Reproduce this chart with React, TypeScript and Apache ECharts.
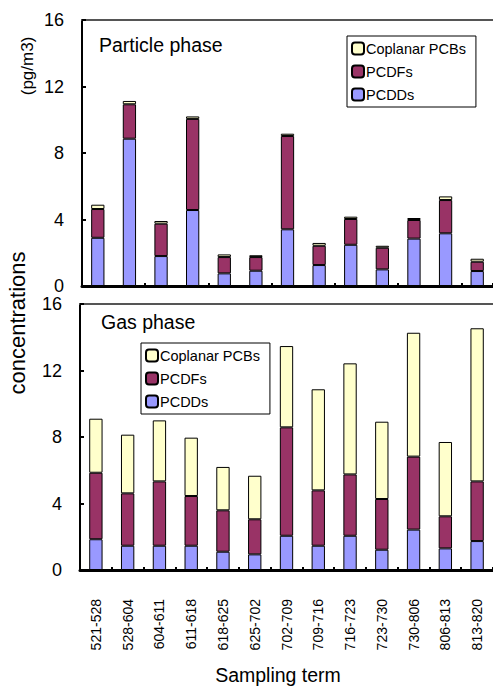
import React, { useEffect, useRef } from "react";
import * as echarts from "echarts";

const categories = ["521-528", "528-604", "604-611", "611-618", "618-625", "625-702", "702-709", "709-716", "716-723", "723-730", "730-806", "806-813", "813-820"];

const particlePCDDs = [2.9, 8.86, 1.8, 4.57, 0.76, 0.92, 3.41, 1.26, 2.48, 1.0, 2.85, 3.17, 0.9];
const particlePCDFs = [1.73, 2.07, 1.95, 5.48, 0.98, 0.82, 5.61, 1.16, 1.55, 1.3, 1.12, 2.0, 0.56];
const particleCoplanar = [0.26, 0.2, 0.16, 0.15, 0.16, 0.11, 0.14, 0.17, 0.14, 0.12, 0.12, 0.22, 0.18];

const gasPCDDs = [1.85, 1.46, 1.46, 1.46, 1.1, 0.94, 2.06, 1.46, 2.06, 1.22, 2.43, 1.3, 1.74];
const gasPCDFs = [4.0, 3.15, 3.87, 2.99, 2.49, 2.11, 6.52, 3.33, 3.69, 3.05, 4.39, 1.93, 3.59];
const gasCoplanar = [3.25, 3.53, 3.67, 3.51, 2.61, 2.62, 4.89, 6.08, 6.68, 4.65, 7.45, 4.47, 9.21];

const yTicks = [0, 4, 8, 12, 16];

const legendNames = ["Coplanar PCBs", "PCDFs", "PCDDs"];
const colors = { PCDDs: "#9999FF", PCDFs: "#993366", "Coplanar PCBs": "#FFFFCC" };

const FONT = "Arial, 'Liberation Sans', sans-serif";

export default function App() {
  const ref = useRef<HTMLDivElement>(null);
  useEffect(() => {
    document.body.style.margin = "0";
    if (!ref.current) return;
    const chart = echarts.init(ref.current, undefined, { renderer: "svg" });

    const mkX = (grid: number, showLabels: boolean) => ({
      type: "category",
      gridIndex: grid,
      data: categories,
      position: "bottom",
      axisLine: { show: true, lineStyle: { color: "#000", width: 3 } },
      axisTick: { show: true, inside: true, length: 3, lineStyle: { color: "#000", width: 2 } },
      axisLabel: showLabels
        ? { show: true, rotate: 90, margin: 29, color: "#000", fontSize: 14, fontFamily: FONT }
        : { show: false },
      splitLine: { show: false },
    });
    const mkTopX = (grid: number) => ({
      type: "category",
      gridIndex: grid,
      data: categories,
      position: "top",
      axisLine: { show: true, lineStyle: { color: "#555", width: 2 } },
      axisTick: { show: false },
      axisLabel: { show: false },
      splitLine: { show: false },
    });
    const mkY = (grid: number) => ({
      type: "value",
      gridIndex: grid,
      min: yTicks[0],
      max: yTicks[yTicks.length - 1],
      interval: 4,
      axisLine: { show: true, lineStyle: { color: "#000", width: 2 } },
      axisTick: { show: true, inside: true, length: 4, lineStyle: { color: "#000", width: 2 } },
      axisLabel: { color: "#000", fontSize: 18, fontFamily: FONT, margin: 18 },
      splitLine: { show: false },
    });

    const mkSeries = (name: string, data: number[], xi: number, yi: number, stack: string) => ({
      name,
      type: "bar",
      stack,
      data,
      xAxisIndex: xi,
      yAxisIndex: yi,
      barWidth: "42%",
      itemStyle: { color: (colors as any)[name], borderColor: "#000", borderWidth: 1 },
    });

    const legendCommon = {
      data: legendNames,
      orient: "vertical",
      itemWidth: 12,
      itemHeight: 12,
      itemGap: 8,
      borderColor: "#000",
      borderWidth: 1,
      padding: [5, 10, 5, 4],
      backgroundColor: "#fff",
      textStyle: { color: "#000", fontSize: 14.5, fontFamily: FONT, padding: [0, 0, 0, -3] },
      selectedMode: false,
    };

    chart.setOption({
      animation: false,
      backgroundColor: "#fff",
      grid: [
        { left: 82, top: 20, width: 417, height: 266 },
        { left: 80, top: 304, width: 417, height: 266 },
      ],
      xAxis: [mkX(0, false), mkX(1, true), mkTopX(0), mkTopX(1)],
      yAxis: [mkY(0), mkY(1)],
      legend: [
        { ...legendCommon, left: 347, top: 36 },
        { ...legendCommon, left: 141, top: 343 },
      ],
      series: [
        mkSeries("PCDDs", particlePCDDs, 0, 0, "p"),
        mkSeries("PCDFs", particlePCDFs, 0, 0, "p"),
        mkSeries("Coplanar PCBs", particleCoplanar, 0, 0, "p"),
        mkSeries("PCDDs", gasPCDDs, 1, 1, "g"),
        mkSeries("PCDFs", gasPCDFs, 1, 1, "g"),
        mkSeries("Coplanar PCBs", gasCoplanar, 1, 1, "g"),
      ],
      graphic: [
        { type: "text", left: 99, top: 35, style: { text: "Particle phase", fontSize: 19.5, fontFamily: FONT, fill: "#000" } },
        { type: "text", left: 101, top: 312, style: { text: "Gas phase", fontSize: 19.5, fontFamily: FONT, fill: "#000" } },
        { type: "text", x: 27, y: 66, rotation: Math.PI / 2, style: { text: "(pg/m3)", fontSize: 17, fontFamily: FONT, fill: "#000", align: "center", verticalAlign: "middle" } },
        { type: "text", x: 17, y: 323, rotation: Math.PI / 2, style: { text: "concentrations", fontSize: 22, fontFamily: FONT, fill: "#000", align: "center", verticalAlign: "middle" } },
        { type: "text", x: 278, y: 675, style: { text: "Sampling term", fontSize: 19.5, fontFamily: FONT, fill: "#000", align: "center", verticalAlign: "middle" } },
      ],
    });
    return () => chart.dispose();
  }, []);
  return <div ref={ref} style={{ width: 493, height: 686, position: "absolute", left: 0, top: 0 }} />;
}
